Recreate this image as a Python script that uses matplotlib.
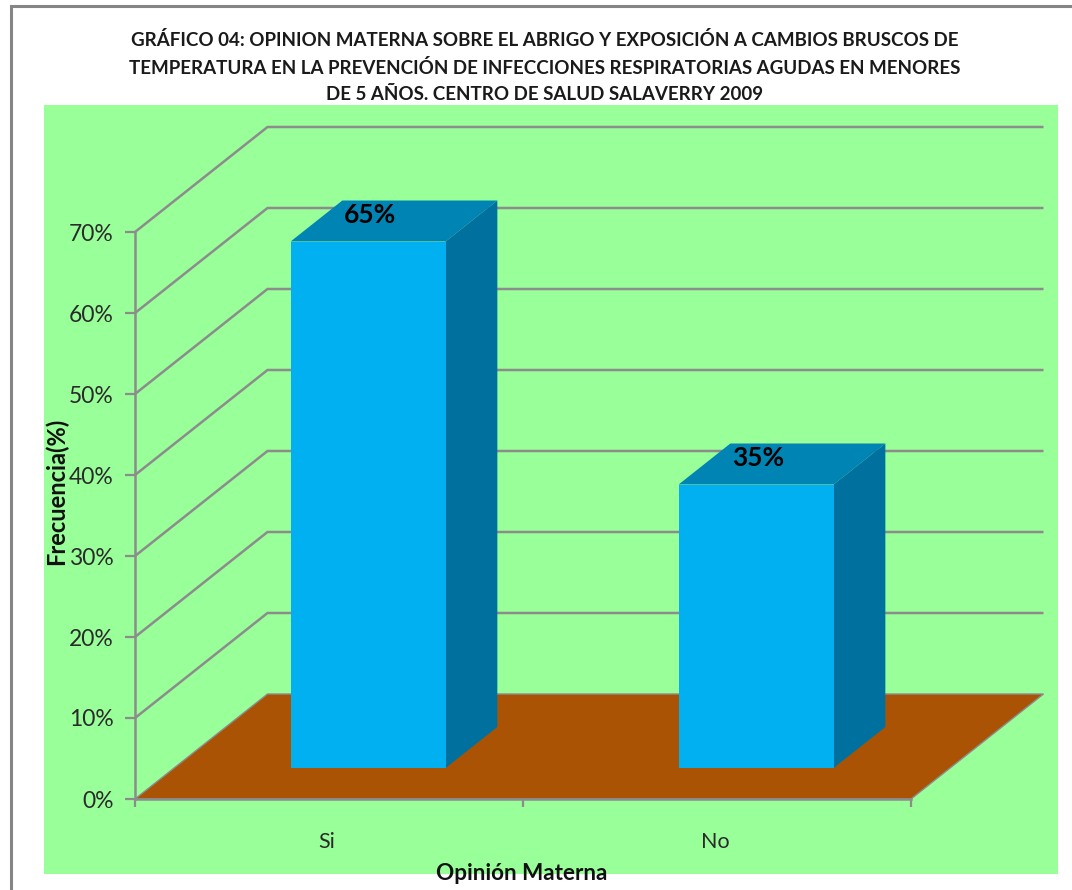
import matplotlib
matplotlib.use("Agg")
import matplotlib.pyplot as plt
from matplotlib.patches import Polygon, Rectangle

categories = ["Si", "No"]
values = [65, 35]
value_labels = ["65%", "35%"]
y_ticks = [0, 10, 20, 30, 40, 50, 60, 70]
y_tick_labels = ["0%", "10%", "20%", "30%", "40%", "50%", "60%", "70%"]
title_lines = [
    "GRÁFICO 04: OPINION MATERNA SOBRE EL ABRIGO Y EXPOSICIÓN A CAMBIOS BRUSCOS DE",
    "TEMPERATURA EN LA PREVENCIÓN DE INFECCIONES RESPIRATORIAS AGUDAS EN MENORES",
    "DE 5 AÑOS. CENTRO DE SALUD SALAVERRY 2009",
]

W, H = 1072, 890
GREEN, FLOOR = "#99FF99", "#AB5305"
FRONT, TOP, SIDE = "#00B0F0", "#0084B4", "#00709E"
GRAY = "#8C8C8C"
plt.rcParams["font.family"] = ["Lato", "DejaVu Sans"]

fig = plt.figure(figsize=(W / 100, H / 100), dpi=100, facecolor="white")
# outer chart frame (open at the right and bottom edges, as cropped)
fig.add_artist(Rectangle((10.5 / W, -0.1), 1.2, 1.1 - 5.5 / H,
                         transform=fig.transFigure, fill=False, ec="#858585", lw=2.2))

PX_X, PX_Y = 388.0, 8.1
ax = fig.add_axes([44 / W, 1 - 874 / H, (1058 - 44) / W, (874 - 105) / H], facecolor=GREEN)
ax.set_xlim(-91 / PX_X, 923 / PX_X)
ax.set_ylim(-75 / PX_Y, 694 / PX_Y)

DX, DY = 132.5 / PX_X, 105 / PX_Y     # oblique depth of the floor
n = len(categories)
BAR_W = 155 / PX_X
D0, D1 = 31 / 105, 72 / 105           # depth range occupied by the bars

for v in y_ticks[1:]:
    ax.plot([0, DX, n + DX], [v, v + DY, v + DY], color=GRAY, lw=1.8, zorder=1,
            solid_capstyle="butt", solid_joinstyle="miter")
ax.add_patch(Polygon([(0, 0), (n, 0), (n + DX, DY), (DX, DY)], closed=True,
                     fc=FLOOR, ec=GRAY, lw=1.0, zorder=2))

for i, (val, lab) in enumerate(zip(values, value_labels)):
    c = i + 0.5
    xl = c - BAR_W / 2 + D0 * DX
    xr = xl + BAR_W
    yb = D0 * DY
    yt = yb + val
    ddx, ddy = (D1 - D0) * DX, (D1 - D0) * DY
    ax.add_patch(Polygon([(xl, yt), (xr, yt), (xr + ddx, yt + ddy), (xl + ddx, yt + ddy)],
                         closed=True, fc=TOP, ec="none", zorder=3))
    ax.add_patch(Polygon([(xr, yb), (xr + ddx, yb + ddy), (xr + ddx, yt + ddy), (xr, yt)],
                         closed=True, fc=SIDE, ec="none", zorder=3))
    ax.add_patch(Rectangle((xl, yb), BAR_W, val, fc=FRONT, ec="none", zorder=4))
    ax.text(c + D0 * DX + 0.004, yt + ddy * 0.64, lab, ha="center", va="center",
            fontsize=19, fontweight="bold", color="black", zorder=5)

for s in ("top", "right"):
    ax.spines[s].set_visible(False)
ax.spines["left"].set_position(("data", 0))
ax.spines["bottom"].set_position(("data", 0))
ax.spines["left"].set_bounds(0, 70)
ax.spines["bottom"].set_bounds(0, n)
for s in ("left", "bottom"):
    ax.spines[s].set_color(GRAY)
    ax.spines[s].set_linewidth(1.8)
    ax.spines[s].set_zorder(6)

ax.set_yticks(y_ticks)
ax.set_yticklabels(y_tick_labels, fontsize=16.5, color="#2b2b2b")
ax.tick_params(axis="y", length=7.5, width=1.6, color=GRAY, pad=8)
ax.set_xticks(range(n + 1))
ax.set_xticklabels([""] * (n + 1))
ax.set_xticks([i + 0.495 for i in range(n)], minor=True)
ax.set_xticklabels(categories, minor=True, fontsize=15.5, color="#2b2b2b")
ax.tick_params(axis="x", which="major", length=6, width=1.6, color=GRAY)
ax.tick_params(axis="x", which="minor", length=0, pad=24)

for ln, y in zip(title_lines, [40.5, 68.5, 95]):
    fig.text(544.5 / W, 1 - y / H, ln, ha="center", va="center", fontsize=13.5,
             fontweight="bold", color="#1a1a1a")
fig.text(522 / W, 1 - 874 / H, "Opinión Materna", ha="center", va="center",
         fontsize=16.2, fontweight="bold", color="#111111")
fig.text(56 / W, 1 - 491 / H, "Frecuencia(%)", ha="center", va="center", rotation=90,
         fontsize=17, fontweight="bold", color="#111111")

fig.savefig("out.png", dpi=100)
